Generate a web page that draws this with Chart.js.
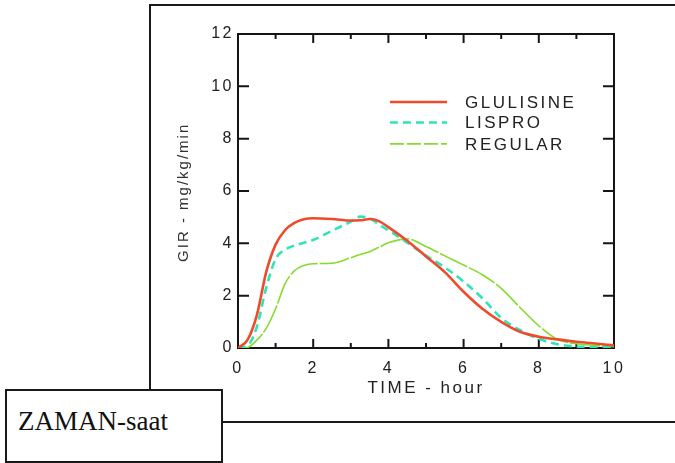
<!DOCTYPE html>
<html>
<head>
<meta charset="utf-8">
<script src="https://cdn.jsdelivr.net/npm/chart.js@4.4.1/dist/chart.umd.min.js"></script>
<style>
html, body { margin: 0; padding: 0; background: #fff; }
body { width: 675px; height: 463px; position: relative; overflow: hidden; }
.frame { position: absolute; left: 149px; top: 4px; width: 540px; height: 386px; border-top: 2px solid #1a1a1a; border-left: 2px solid #1a1a1a; }
.baseline { position: absolute; left: 221px; top: 421px; width: 470px; border-top: 2px solid #1a1a1a; }
.zaman { position: absolute; left: 5px; top: 389px; width: 214px; height: 70px; border: 2px solid #1a1a1a; background: #fff; }
.zaman span { position: absolute; left: 11px; top: 17px; font: 27px/27px "Liberation Serif", "Times New Roman", serif; color: #111; }
#wrap { position: absolute; left: 0; top: 0; width: 675px; height: 463px; }
</style>
</head>
<body>
<div class="frame"></div>
<div class="baseline"></div>
<div class="zaman"><span>ZAMAN-saat</span></div>
<div id="wrap"><canvas id="gir"></canvas></div>
<script>
const times = [0, 0.25, 0.5, 0.75, 1, 1.25, 1.5, 1.75, 2, 2.5, 3, 3.25, 3.5, 3.75, 4, 4.5, 5, 5.5, 6, 6.5, 7, 7.5, 8, 8.5, 9, 9.5, 10];
const glulisine = [0, 0.3, 1.25, 2.9, 3.95, 4.5, 4.78, 4.92, 4.96, 4.93, 4.87, 4.88, 4.93, 4.85, 4.62, 4.1, 3.5, 2.9, 2.15, 1.5, 1.0, 0.62, 0.43, 0.33, 0.24, 0.17, 0.1];
const lispro = [0, 0.08, 0.8, 2.3, 3.4, 3.75, 3.92, 4.02, 4.13, 4.48, 4.83, 5.02, 4.96, 4.72, 4.5, 4.03, 3.53, 3.08, 2.54, 1.9, 1.15, 0.68, 0.35, 0.14, 0.06, 0.03, 0.02];
const regular = [0, 0.02, 0.3, 0.75, 1.5, 2.45, 2.95, 3.15, 3.22, 3.24, 3.45, 3.57, 3.68, 3.85, 4.02, 4.17, 3.88, 3.52, 3.17, 2.8, 2.28, 1.55, 0.85, 0.33, 0.16, 0.1, 0.05];
const seriesNames = ["GLULISINE", "LISPRO", "REGULAR"];
const yTitle = "GIR - mg/kg/min";

const FONT = '"Liberation Sans", Arial, sans-serif';
const toPoints = ys => ys.map((y, i) => ({ x: times[i], y: y }));

// frame, inward ticks, y title and legend drawn around the library's scales
const decorations = {
  id: "decorations",
  beforeDraw(chart) {
    chart.ctx.letterSpacing = "2.5px";
  },
  beforeDatasetsDraw(chart) {
    const { ctx, chartArea: a, scales: { x, y } } = chart;
    ctx.save();
    ctx.strokeStyle = "#151515";
    ctx.lineWidth = 2;
    ctx.strokeRect(a.left, a.top, a.right - a.left, a.bottom - a.top);
    ctx.beginPath();
    x.ticks.forEach(t => {
      const px = x.getPixelForValue(t.value);
      const len = t.value % 2 === 0 ? 9 : 5;
      ctx.moveTo(px, a.bottom); ctx.lineTo(px, a.bottom - len);
      ctx.moveTo(px, a.top); ctx.lineTo(px, a.top + len);
    });
    y.ticks.forEach(t => {
      const py = y.getPixelForValue(t.value);
      ctx.moveTo(a.left, py); ctx.lineTo(a.left + 11, py);
      ctx.moveTo(a.right, py); ctx.lineTo(a.right - 11, py);
    });
    ctx.stroke();

    // y axis title, reading upwards
    ctx.letterSpacing = "2px";
    ctx.font = "15px " + FONT;
    ctx.fillStyle = "#333";
    ctx.textAlign = "left";
    ctx.textBaseline = "alphabetic";
    ctx.translate(a.left - 50, y.getPixelForValue(3.29));
    ctx.rotate(-Math.PI / 2);
    ctx.fillText(yTitle, 0, 0);
    ctx.restore();
  },
  afterDatasetsDraw(chart) {
    const { ctx, scales: { x, y } } = chart;
    const rows = [9.4, 8.62, 7.8];
    ctx.save();
    ctx.font = "17px " + FONT;
    ctx.fillStyle = "#222";
    ctx.textAlign = "left";
    ctx.textBaseline = "middle";
    chart.data.datasets.forEach((ds, i) => {
      const py = y.getPixelForValue(rows[i]);
      ctx.strokeStyle = ds.borderColor;
      ctx.lineWidth = ds.borderWidth;
      ctx.setLineDash(ds.legendDash || ds.borderDash || []);
      ctx.beginPath();
      ctx.moveTo(x.getPixelForValue(4.04), py);
      ctx.lineTo(x.getPixelForValue(5.56), py);
      ctx.stroke();
      ctx.fillText(ds.label, x.getPixelForValue(6.04), py + 1);
    });
    ctx.restore();
  }
};

new Chart(document.getElementById("gir"), {
  type: "line",
  data: {
    datasets: [
      { label: seriesNames[0], data: toPoints(glulisine), borderColor: "#f04a2c", borderWidth: 2.6 },
      { label: seriesNames[1], data: toPoints(lispro), borderColor: "#2fe4b6", borderWidth: 2.6, borderDash: [8, 5] },
      { label: seriesNames[2], data: toPoints(regular), borderColor: "#84dc2e", borderWidth: 1.6, borderDash: [30, 2], legendDash: [14, 3] }
    ]
  },
  options: {
    responsive: true,
    maintainAspectRatio: false,
    animation: false,
    events: [],
    layout: { padding: { left: 169, top: 34, right: 61, bottom: 60 } },
    elements: {
      point: { radius: 0 },
      line: { cubicInterpolationMode: "monotone", fill: false }
    },
    plugins: { legend: { display: false }, tooltip: { enabled: false } },
    scales: {
      x: {
        type: "linear",
        min: 0,
        max: 10,
        grid: { display: false },
        border: { display: false },
        afterFit(s) { s.height = 55; },
        ticks: {
          stepSize: 1,
          autoSkip: false,
          maxRotation: 0,
          padding: 3,
          color: "#222",
          font: { family: FONT, size: 16 },
          callback: v => (v % 2 === 0 ? v : "")
        },
        title: { display: true, text: "TIME - hour", color: "#222", font: { family: FONT, size: 17 } }
      },
      y: {
        min: 0,
        max: 12,
        grid: { display: false },
        border: { display: false },
        afterFit(s) { s.width = 69; },
        ticks: { stepSize: 2, padding: -4, color: "#222", font: { family: FONT, size: 16 } }
      }
    }
  },
  plugins: [decorations]
});
</script>
</body>
</html>
